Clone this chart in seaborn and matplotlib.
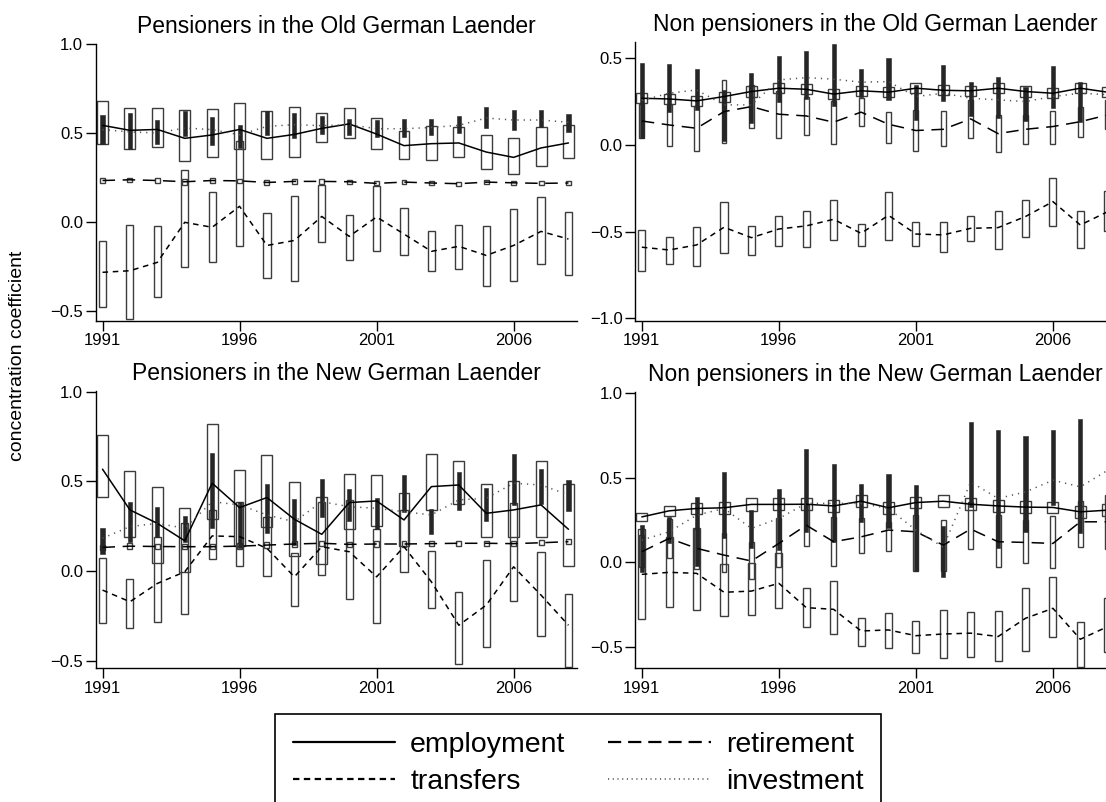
import matplotlib
matplotlib.use("Agg")
import matplotlib.pyplot as plt
from matplotlib.lines import Line2D
import numpy as np
import seaborn as sns

years = list(range(1991, 2009))

# Pensioners in the Old German Laender
po_emp = [0.543, 0.515, 0.520, 0.470, 0.489, 0.520, 0.470, 0.492, 0.526, 0.551, 0.494, 0.429, 0.440, 0.444, 0.393, 0.363, 0.416, 0.444]
po_emp_lo = [0.440, 0.412, 0.423, 0.343, 0.365, 0.412, 0.354, 0.365, 0.449, 0.472, 0.412, 0.356, 0.350, 0.367, 0.299, 0.267, 0.315, 0.360]
po_emp_hi = [0.681, 0.642, 0.640, 0.631, 0.633, 0.666, 0.624, 0.644, 0.610, 0.638, 0.584, 0.509, 0.537, 0.535, 0.490, 0.470, 0.534, 0.547]
po_tra = [-0.283, -0.274, -0.227, -0.002, -0.030, 0.088, -0.132, -0.104, 0.031, -0.081, 0.028, -0.068, -0.165, -0.137, -0.188, -0.132, -0.053, -0.096]
po_tra_lo = [-0.478, -0.543, -0.420, -0.251, -0.223, -0.134, -0.315, -0.332, -0.110, -0.215, -0.165, -0.185, -0.274, -0.266, -0.360, -0.334, -0.238, -0.296]
po_tra_hi = [-0.109, -0.017, -0.025, 0.290, 0.166, 0.453, 0.052, 0.148, 0.208, 0.041, 0.204, 0.080, -0.053, -0.017, -0.021, 0.074, 0.138, 0.056]
po_ret = [0.233, 0.237, 0.233, 0.226, 0.233, 0.231, 0.222, 0.228, 0.228, 0.226, 0.217, 0.224, 0.219, 0.215, 0.224, 0.220, 0.217, 0.219]
po_ret_lo = [0.221, 0.225, 0.221, 0.210, 0.221, 0.219, 0.210, 0.216, 0.216, 0.214, 0.205, 0.212, 0.207, 0.203, 0.212, 0.208, 0.205, 0.207]
po_ret_hi = [0.245, 0.249, 0.245, 0.240, 0.245, 0.243, 0.234, 0.240, 0.240, 0.238, 0.229, 0.236, 0.231, 0.227, 0.236, 0.232, 0.229, 0.231]
po_inv = [0.519, 0.506, 0.500, 0.528, 0.519, 0.490, 0.537, 0.547, 0.541, 0.547, 0.524, 0.524, 0.531, 0.543, 0.584, 0.573, 0.573, 0.560]
po_inv_lo = [0.440, 0.410, 0.440, 0.481, 0.430, 0.416, 0.487, 0.472, 0.492, 0.490, 0.475, 0.479, 0.487, 0.498, 0.528, 0.515, 0.534, 0.503]
po_inv_hi = [0.603, 0.612, 0.575, 0.624, 0.590, 0.543, 0.621, 0.614, 0.597, 0.580, 0.571, 0.579, 0.579, 0.597, 0.648, 0.631, 0.629, 0.609]

# Non pensioners in the Old German Laender
no_emp = [0.269, 0.265, 0.254, 0.279, 0.308, 0.327, 0.321, 0.293, 0.312, 0.304, 0.327, 0.315, 0.312, 0.327, 0.308, 0.298, 0.327, 0.304]
no_emp_lo = [0.240, 0.236, 0.225, 0.250, 0.279, 0.298, 0.292, 0.264, 0.283, 0.275, 0.298, 0.286, 0.283, 0.298, 0.279, 0.269, 0.298, 0.275]
no_emp_hi = [0.298, 0.294, 0.283, 0.308, 0.337, 0.356, 0.350, 0.322, 0.341, 0.333, 0.356, 0.344, 0.341, 0.356, 0.337, 0.327, 0.356, 0.333]
no_tra = [-0.590, -0.606, -0.577, -0.475, -0.535, -0.485, -0.467, -0.429, -0.510, -0.406, -0.514, -0.519, -0.481, -0.477, -0.413, -0.327, -0.462, -0.385]
no_tra_lo = [-0.729, -0.685, -0.698, -0.625, -0.633, -0.581, -0.590, -0.550, -0.585, -0.550, -0.583, -0.619, -0.556, -0.602, -0.529, -0.466, -0.592, -0.494]
no_tra_hi = [-0.492, -0.533, -0.475, -0.327, -0.466, -0.410, -0.381, -0.319, -0.458, -0.269, -0.446, -0.446, -0.408, -0.381, -0.319, -0.192, -0.383, -0.264]
no_ret = [0.138, 0.115, 0.096, 0.192, 0.221, 0.177, 0.167, 0.131, 0.189, 0.119, 0.083, 0.090, 0.150, 0.065, 0.090, 0.106, 0.134, 0.173]
no_ret_lo = [0.039, -0.004, -0.033, 0.010, 0.096, 0.042, 0.058, 0.006, 0.110, 0.013, -0.033, -0.008, 0.039, -0.040, 0.006, 0.004, 0.046, 0.090]
no_ret_hi = [0.237, 0.234, 0.225, 0.375, 0.346, 0.310, 0.276, 0.256, 0.268, 0.192, 0.200, 0.196, 0.260, 0.170, 0.170, 0.196, 0.220, 0.260]
no_inv = [0.257, 0.298, 0.317, 0.231, 0.231, 0.375, 0.388, 0.379, 0.362, 0.365, 0.279, 0.298, 0.269, 0.260, 0.250, 0.279, 0.298, 0.290]
no_inv_lo = [0.042, 0.189, 0.202, 0.023, 0.125, 0.250, 0.264, 0.227, 0.279, 0.258, 0.144, 0.254, 0.167, 0.158, 0.138, 0.215, 0.131, 0.190]
no_inv_hi = [0.471, 0.465, 0.439, 0.317, 0.414, 0.510, 0.544, 0.581, 0.437, 0.500, 0.346, 0.462, 0.362, 0.394, 0.336, 0.456, 0.365, 0.390]

# Pensioners in the New German Laender
pn_emp = [0.568, 0.341, 0.266, 0.169, 0.490, 0.354, 0.410, 0.289, 0.205, 0.382, 0.391, 0.285, 0.471, 0.480, 0.322, 0.341, 0.369, 0.233]
pn_emp_lo = [0.412, 0.188, 0.043, -0.004, 0.289, 0.140, 0.244, 0.085, 0.037, 0.233, 0.253, 0.140, 0.341, 0.372, 0.188, 0.192, 0.192, 0.030]
pn_emp_hi = [0.756, 0.559, 0.467, 0.354, 0.819, 0.561, 0.646, 0.497, 0.415, 0.540, 0.533, 0.434, 0.652, 0.615, 0.486, 0.503, 0.615, 0.484]
pn_tra = [-0.106, -0.171, -0.069, -0.004, 0.196, 0.192, 0.127, -0.032, 0.136, 0.108, -0.032, 0.136, -0.060, -0.302, -0.190, 0.024, -0.134, -0.302]
pn_tra_lo = [-0.292, -0.315, -0.283, -0.237, 0.065, 0.028, -0.026, -0.196, -0.022, -0.153, -0.287, -0.004, -0.208, -0.520, -0.423, -0.166, -0.363, -0.535]
pn_tra_hi = [0.074, -0.046, 0.192, 0.266, 0.341, 0.387, 0.304, 0.101, 0.387, 0.397, 0.235, 0.341, 0.113, -0.116, 0.061, 0.378, 0.108, -0.125]
pn_ret = [0.132, 0.139, 0.137, 0.136, 0.136, 0.139, 0.145, 0.151, 0.155, 0.149, 0.151, 0.151, 0.153, 0.155, 0.155, 0.153, 0.158, 0.164]
pn_ret_lo = [0.117, 0.124, 0.122, 0.121, 0.121, 0.124, 0.130, 0.136, 0.140, 0.134, 0.136, 0.136, 0.138, 0.140, 0.140, 0.138, 0.143, 0.149]
pn_ret_hi = [0.147, 0.154, 0.152, 0.151, 0.151, 0.154, 0.160, 0.166, 0.170, 0.164, 0.166, 0.166, 0.168, 0.170, 0.170, 0.168, 0.173, 0.179]
pn_inv = [0.183, 0.248, 0.266, 0.239, 0.387, 0.369, 0.313, 0.275, 0.387, 0.359, 0.350, 0.331, 0.313, 0.397, 0.406, 0.490, 0.480, 0.425]
pn_inv_lo = [0.095, 0.160, 0.188, 0.164, 0.238, 0.127, 0.210, 0.145, 0.304, 0.281, 0.233, 0.328, 0.207, 0.342, 0.279, 0.369, 0.376, 0.337]
pn_inv_hi = [0.238, 0.387, 0.356, 0.306, 0.659, 0.384, 0.484, 0.400, 0.512, 0.458, 0.406, 0.536, 0.346, 0.555, 0.462, 0.654, 0.570, 0.508]

# Non pensioners in the New German Laender
nn_emp = [0.269, 0.305, 0.319, 0.323, 0.343, 0.343, 0.344, 0.334, 0.362, 0.323, 0.354, 0.362, 0.344, 0.334, 0.327, 0.325, 0.299, 0.309]
nn_emp_lo = [0.244, 0.276, 0.284, 0.288, 0.303, 0.308, 0.309, 0.299, 0.327, 0.288, 0.319, 0.327, 0.309, 0.299, 0.292, 0.290, 0.264, 0.274]
nn_emp_hi = [0.294, 0.334, 0.354, 0.358, 0.383, 0.378, 0.379, 0.369, 0.397, 0.358, 0.389, 0.397, 0.379, 0.369, 0.362, 0.360, 0.334, 0.344]
nn_tra = [-0.071, -0.059, -0.065, -0.177, -0.170, -0.124, -0.268, -0.278, -0.406, -0.400, -0.434, -0.424, -0.419, -0.439, -0.331, -0.272, -0.455, -0.380]
nn_tra_lo = [-0.337, -0.266, -0.282, -0.317, -0.314, -0.268, -0.384, -0.425, -0.494, -0.504, -0.538, -0.567, -0.563, -0.583, -0.524, -0.443, -0.617, -0.528]
nn_tra_hi = [0.196, 0.150, 0.201, -0.012, -0.006, 0.053, -0.154, -0.109, -0.331, -0.298, -0.345, -0.282, -0.292, -0.290, -0.150, -0.089, -0.351, -0.209]
nn_ret = [0.063, 0.142, 0.083, 0.043, 0.008, 0.112, 0.220, 0.122, 0.151, 0.191, 0.181, 0.102, 0.197, 0.122, 0.118, 0.112, 0.240, 0.240]
nn_ret_lo = [-0.030, 0.027, -0.040, -0.060, -0.100, -0.030, 0.094, -0.020, 0.053, 0.068, -0.051, -0.050, 0.079, -0.026, -0.006, -0.035, 0.092, 0.080]
nn_ret_hi = [0.160, 0.257, 0.200, 0.171, 0.120, 0.260, 0.340, 0.270, 0.260, 0.240, 0.279, 0.250, 0.358, 0.283, 0.250, 0.275, 0.364, 0.400]
nn_inv = [0.132, 0.181, 0.279, 0.319, 0.201, 0.260, 0.349, 0.349, 0.349, 0.319, 0.191, 0.090, 0.476, 0.378, 0.417, 0.486, 0.447, 0.545]
nn_inv_lo = [-0.055, 0.112, -0.020, 0.142, 0.083, 0.073, 0.181, 0.122, 0.240, 0.201, -0.051, -0.085, 0.328, 0.086, 0.181, 0.338, 0.171, 0.250]
nn_inv_hi = [0.220, 0.269, 0.384, 0.535, 0.309, 0.437, 0.673, 0.585, 0.462, 0.522, 0.457, 0.214, 0.830, 0.781, 0.746, 0.781, 0.846, 0.850]

sns.set_style("ticks")
plt.rcParams["font.family"] = ["Liberation Sans", "DejaVu Sans"]
plt.rcParams["lines.scale_dashes"] = False
for key in ["text.color", "axes.labelcolor", "xtick.color", "ytick.color", "axes.edgecolor"]:
    plt.rcParams[key] = "black"

box_edge = "#3c3c3c"
dash_tra = (0, (4.0, 3.4))
dash_ret = (0, (9.0, 5.5))
dash_inv = (0, (0.9, 3.6))


def ci_boxes(ax, lo, hi, width, **kw):
    ax.bar(years, np.subtract(hi, lo), bottom=lo, width=width, **kw)


def draw_panel(ax, title, ylim, yticks, emp, emp_lo, emp_hi, tra, tra_lo, tra_hi,
               ret, ret_lo, ret_hi, inv, inv_lo, inv_hi):
    ci_boxes(ax, emp_lo, emp_hi, 0.40, fill=False, edgecolor=box_edge, linewidth=1.0, zorder=2)
    ci_boxes(ax, tra_lo, tra_hi, 0.26, fill=False, edgecolor=box_edge, linewidth=1.0, zorder=2)
    ci_boxes(ax, ret_lo, ret_hi, 0.18, fill=False, edgecolor=box_edge, linewidth=1.0, zorder=2)
    ci_boxes(ax, inv_lo, inv_hi, 0.15, color="#262626", edgecolor="#262626", linewidth=0.4, zorder=3)

    sns.lineplot(x=years, y=emp, ax=ax, color="black", linewidth=1.1, errorbar=None, zorder=5)
    sns.lineplot(x=years, y=tra, ax=ax, color="black", linewidth=1.1, linestyle=dash_tra, errorbar=None, zorder=5)
    sns.lineplot(x=years, y=ret, ax=ax, color="black", linewidth=1.1, linestyle=dash_ret, errorbar=None, zorder=5)
    sns.lineplot(x=years, y=inv, ax=ax, color="#555555", linewidth=1.1, linestyle=dash_inv, errorbar=None, zorder=5)

    ax.set_xlim(1990.75, 2008.3)
    ax.set_ylim(*ylim)
    ax.set_xticks([1991, 1996, 2001, 2006])
    ax.set_yticks(yticks)
    ax.set_yticklabels([f"{t:.1f}".replace("-", "\u2212") for t in yticks])
    ax.set_xlabel("")
    ax.set_ylabel("")
    ax.set_title(title, fontsize=16.5, pad=8, color="black")
    ax.tick_params(length=7, width=1.0, labelsize=12, pad=2, color="black", labelcolor="black")
    for side in ["top", "right"]:
        ax.spines[side].set_visible(False)
    for side in ["left", "bottom"]:
        ax.spines[side].set_linewidth(1.0)
        ax.spines[side].set_color("black")


fig = plt.figure(figsize=(11.06, 8.02), dpi=100)
ax_tl = fig.add_axes([0.0865, 0.6001, 0.4349, 0.3450])
ax_tr = fig.add_axes([0.5741, 0.6001, 0.4349, 0.3472])
ax_bl = fig.add_axes([0.0865, 0.1667, 0.4349, 0.3460])
ax_br = fig.add_axes([0.5741, 0.1667, 0.4349, 0.3449])

draw_panel(ax_tl, "Pensioners in the Old German Laender", (-0.555, 1.0), [-0.5, 0.0, 0.5, 1.0],
           po_emp, po_emp_lo, po_emp_hi, po_tra, po_tra_lo, po_tra_hi,
           po_ret, po_ret_lo, po_ret_hi, po_inv, po_inv_lo, po_inv_hi)
draw_panel(ax_tr, "Non pensioners in the Old German Laender", (-1.014, 0.592), [-1.0, -0.5, 0.0, 0.5],
           no_emp, no_emp_lo, no_emp_hi, no_tra, no_tra_lo, no_tra_hi,
           no_ret, no_ret_lo, no_ret_hi, no_inv, no_inv_lo, no_inv_hi)
draw_panel(ax_bl, "Pensioners in the New German Laender", (-0.542, 1.005), [-0.5, 0.0, 0.5, 1.0],
           pn_emp, pn_emp_lo, pn_emp_hi, pn_tra, pn_tra_lo, pn_tra_hi,
           pn_ret, pn_ret_lo, pn_ret_hi, pn_inv, pn_inv_lo, pn_inv_hi)
draw_panel(ax_br, "Non pensioners in the New German Laender", (-0.627, 1.01), [-0.5, 0.0, 0.5, 1.0],
           nn_emp, nn_emp_lo, nn_emp_hi, nn_tra, nn_tra_lo, nn_tra_hi,
           nn_ret, nn_ret_lo, nn_ret_hi, nn_inv, nn_inv_lo, nn_inv_hi)

fig.text(18 / 1106, 0.556, "concentration coefficient", rotation=90,
         ha="center", va="center", fontsize=14)

handles = [
    Line2D([], [], color="black", linewidth=1.6),
    Line2D([], [], color="black", linewidth=1.6, linestyle=(0, (4.6, 3.2))),
    Line2D([], [], color="black", linewidth=1.6, linestyle=(0, (9.5, 5.0))),
    Line2D([], [], color="#555555", linewidth=1.2, linestyle=(0, (0.8, 2.6))),
]
labels = ["employment", "transfers", "retirement", "investment"]
leg = fig.legend(handles, labels, loc="upper left",
                 bbox_to_anchor=(275 / 1106, 1 - 714 / 802), ncol=2,
                 frameon=True, fancybox=False, shadow=False, framealpha=1,
                 edgecolor="black", fontsize=20.5, handlelength=3.6,
                 handletextpad=0.53, columnspacing=1.5, borderpad=0.62,
                 labelspacing=0.41, borderaxespad=0)
leg.get_frame().set_linewidth(1.2)

fig.savefig("out.png", dpi=100)
